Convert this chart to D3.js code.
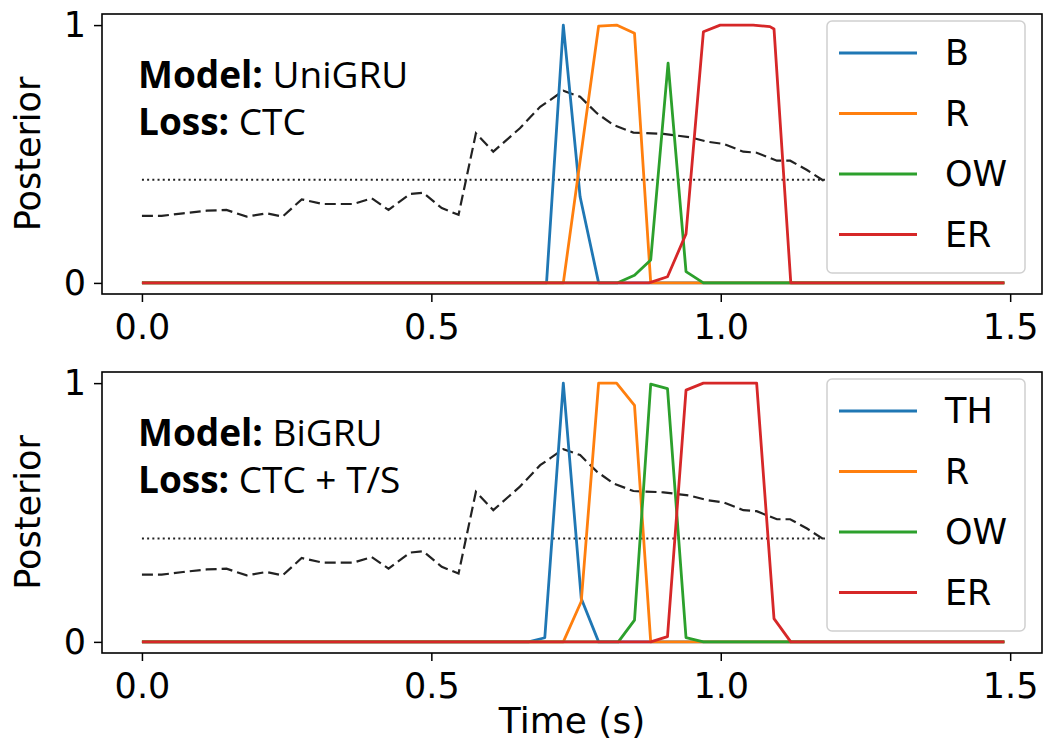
<!DOCTYPE html>
<html>
<head>
<meta charset="utf-8">
<script src="https://cdn.jsdelivr.net/npm/d3@7"></script>
<style>
  body { margin: 0; background: #fff; }
  svg { display: block; }
  .tick text, .lbl { font-family: "DejaVu Sans", sans-serif; fill: #000; }
  .note { font-family: "Open Sans", "Noto Sans", sans-serif; fill: #000; }
</style>
</head>
<body>
<svg id="chart" width="1043" height="750"></svg>
<script>
// phone labels for each panel
var phonesTop = ['B', 'R', 'OW', 'ER'];
var phonesBottom = ['TH', 'R', 'OW', 'ER'];
var colors = ['#1f77b4', '#ff7f0e', '#2ca02c', '#d62728'];

var xTicks = [0, 0.5, 1.0, 1.5];
var yTicks = [0, 1];
var threshold = 0.4;
var tEnd = 1.49;

// dashed curve, same in both panels  [time, value]
var confidence = [
  [0.0, 0.26], [0.034, 0.26], [0.071, 0.27], [0.112, 0.28], [0.146, 0.283],
  [0.181, 0.257], [0.215, 0.27], [0.243, 0.257], [0.276, 0.324], [0.313, 0.306],
  [0.365, 0.306], [0.397, 0.328], [0.426, 0.283], [0.463, 0.345], [0.486, 0.35],
  [0.518, 0.29], [0.547, 0.264], [0.577, 0.58], [0.607, 0.509], [0.653, 0.6],
  [0.688, 0.683], [0.705, 0.709], [0.728, 0.745], [0.757, 0.722], [0.786, 0.658],
  [0.815, 0.612], [0.849, 0.583], [0.901, 0.578], [0.947, 0.565], [0.976, 0.548],
  [1.005, 0.539], [1.039, 0.509], [1.062, 0.505], [1.097, 0.474], [1.12, 0.474],
  [1.149, 0.438], [1.18, 0.393]
];

// UniGRU / CTC posteriors
var uniB = [[0, 0], [0.699, 0], [0.728, 1.0], [0.757, 0.334], [0.789, 0], [tEnd, 0]];
var uniR = [[0, 0], [0.728, 0], [0.789, 0.996], [0.82, 1.0], [0.851, 0.968], [0.879, 0], [tEnd, 0]];
var uniOW = [[0, 0], [0.821, 0], [0.851, 0.03], [0.879, 0.089], [0.909, 0.852], [0.94, 0.044], [0.97, 0], [tEnd, 0]];
var uniER = [[0, 0], [0.876, 0], [0.908, 0.024], [0.94, 0.19], [0.97, 0.974], [0.999, 1.0],
  [1.056, 1.0], [1.085, 0.994], [1.092, 0.985], [1.121, 0], [tEnd, 0]];

// BiGRU / CTC + T/S posteriors
var biTH = [[0, 0], [0.668, 0], [0.696, 0.016], [0.728, 1.0], [0.759, 0.168], [0.789, 0], [tEnd, 0]];
var biR = [[0, 0], [0.728, 0], [0.759, 0.156], [0.789, 1.0], [0.82, 1.0], [0.851, 0.914], [0.879, 0], [tEnd, 0]];
var biOW = [[0, 0], [0.823, 0], [0.851, 0.084], [0.879, 0.996], [0.908, 0.979], [0.94, 0.016], [0.97, 0], [tEnd, 0]];
var biER = [[0, 0], [0.879, 0], [0.908, 0.02], [0.94, 0.973], [0.97, 1.0], [1.062, 1.0],
  [1.092, 0.09], [1.121, 0], [tEnd, 0]];

var svg = d3.select('#chart');

var x = d3.scaleLinear().domain([-0.069, 1.555]).range([102, 1042]);

function drawPanel(top, bottom, series, phones, model, loss, id) {
  // y: 0 -> bottom-11, 1 -> top+11
  var y = d3.scaleLinear().domain([-0.043, 1.043]).range([bottom, top]);
  var g = svg.append('g');

  g.append('clipPath').attr('id', 'clip' + id)
    .append('rect')
    .attr('x', x.range()[0]).attr('y', top)
    .attr('width', x.range()[1] - x.range()[0]).attr('height', bottom - top);

  var plot = g.append('g').attr('clip-path', 'url(#clip' + id + ')');

  var line = d3.line()
    .x(function(d) { return x(d[0]); })
    .y(function(d) { return y(d[1]); });

  plot.append('path')
    .datum(confidence)
    .attr('d', line)
    .attr('fill', 'none')
    .attr('stroke', '#222')
    .attr('stroke-width', 2.2)
    .attr('stroke-dasharray', '11,5');

  plot.append('path')
    .datum([[0, threshold], [confidence[confidence.length - 1][0], threshold]])
    .attr('d', line)
    .attr('fill', 'none')
    .attr('stroke', '#222')
    .attr('stroke-width', 2)
    .attr('stroke-dasharray', '2,3.2');

  series.forEach(function(s, i) {
    plot.append('path')
      .datum(s)
      .attr('d', line)
      .attr('fill', 'none')
      .attr('stroke', colors[i])
      .attr('stroke-width', 2.8)
      .attr('stroke-linejoin', 'round');
  });

  // axes
  var xAxis = d3.axisBottom(x).tickValues(xTicks)
    .tickFormat(d3.format('.1f')).tickSizeInner(8).tickSizeOuter(0).tickPadding(12);
  var gx = g.append('g').attr('transform', 'translate(0,' + bottom + ')').call(xAxis);

  var yAxis = d3.axisLeft(y).tickValues(yTicks)
    .tickFormat(d3.format('d')).tickSizeInner(8).tickSizeOuter(0).tickPadding(8);
  var gy = g.append('g').attr('transform', 'translate(' + x.range()[0] + ',0)').call(yAxis);

  [gx, gy].forEach(function(a) {
    a.select('.domain').remove();
    a.selectAll('.tick line').attr('stroke', '#000').attr('stroke-width', 1.5);
    a.selectAll('.tick text').attr('font-size', 35);
  });

  // frame
  g.append('rect')
    .attr('x', x.range()[0]).attr('y', top)
    .attr('width', x.range()[1] - x.range()[0]).attr('height', bottom - top)
    .attr('fill', 'none').attr('stroke', '#000').attr('stroke-width', 1.6);

  // y label
  g.append('text')
    .attr('class', 'lbl')
    .attr('transform', 'translate(40,' + (top + bottom) / 2 + ') rotate(-90)')
    .attr('text-anchor', 'middle')
    .attr('font-size', 35)
    .text('Posterior');

  // model / loss note
  var note = g.append('text').attr('class', 'note').attr('font-size', 37);
  var l1 = note.append('tspan').attr('x', 138).attr('y', y(1) + 63);
  l1.append('tspan').attr('font-weight', 'bold').text('Model:');
  l1.append('tspan').text(' ' + model);
  var l2 = note.append('tspan').attr('x', 138).attr('y', y(1) + 110);
  l2.append('tspan').attr('font-weight', 'bold').text('Loss:');
  l2.append('tspan').text(' ' + loss);

  // legend
  var lg = g.append('g').attr('transform', 'translate(827,' + (top + 7) + ')');
  lg.append('rect')
    .attr('width', 198).attr('height', 252).attr('rx', 5)
    .attr('fill', '#fff').attr('stroke', '#d0d0d0').attr('stroke-width', 1.5);
  phones.forEach(function(p, i) {
    var row = lg.append('g').attr('transform', 'translate(0,' + (32 + i * 60.5) + ')');
    row.append('line')
      .attr('x1', 12).attr('x2', 90)
      .attr('stroke', colors[i]).attr('stroke-width', 2.8);
    row.append('text')
      .attr('class', 'lbl')
      .attr('x', 118).attr('y', 12)
      .attr('font-size', 35)
      .text(p);
  });
}

drawPanel(14, 294, [uniB, uniR, uniOW, uniER], phonesTop, 'UniGRU', 'CTC', 'a');
drawPanel(372, 653, [biTH, biR, biOW, biER], phonesBottom, 'BiGRU', 'CTC + T/S', 'b');

svg.append('text')
  .attr('class', 'lbl')
  .attr('x', 572).attr('y', 733)
  .attr('text-anchor', 'middle')
  .attr('font-size', 36)
  .text('Time (s)');
</script>
</body>
</html>
